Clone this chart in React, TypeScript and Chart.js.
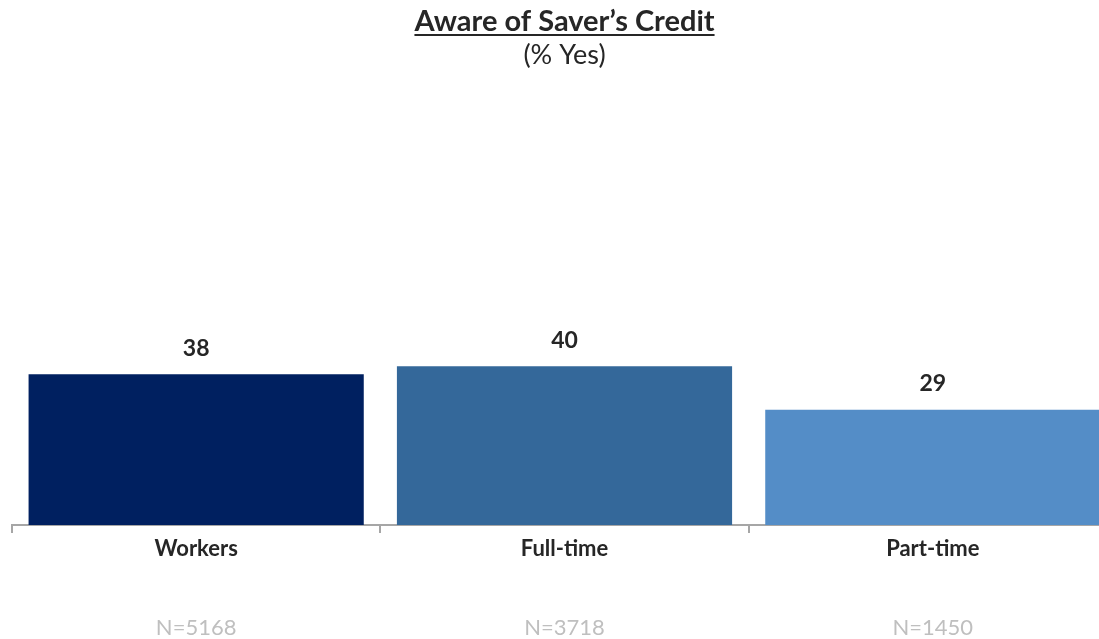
import React, { useEffect, useRef } from "react";
import { Chart, registerables } from "chart.js";

Chart.register(...registerables);

const categories = ["Workers", "Full-time", "Part-time"];
const values = [38, 40, 29];
const sampleSizes = ["N=5168", "N=3718", "N=1450"];
const barColors = ["#002060", "#34689A", "#548DC7"];
const titleText = "Aware of Saver’s Credit";
const subtitleText = "(% Yes)";
const yMin = 0;
const yMax = 100;

const FONT = "Lato, 'Open Sans', sans-serif";
const TEXT = "#262626";

const overlayPlugin = {
  id: "overlay",
  afterDatasetsDraw(chart: any) {
    const ctx = chart.ctx;
    const area = chart.chartArea;
    const cx = (area.left + area.right) / 2;
    ctx.save();

    // value labels
    const meta = chart.getDatasetMeta(0);
    ctx.fillStyle = TEXT;
    ctx.font = `bold 23px ${FONT}`;
    ctx.textAlign = "center";
    ctx.textBaseline = "middle";
    meta.data.forEach((bar: any, i: number) => {
      ctx.fillText(String(values[i]), bar.x, bar.y - 26);
    });

    // sample sizes
    const xs = chart.scales.x;
    ctx.fillStyle = "#BFBFBF";
    ctx.font = `22px ${FONT}`;
    ctx.textBaseline = "alphabetic";
    sampleSizes.forEach((s, i) => {
      ctx.fillText(s, xs.getPixelForValue(i), 635);
    });

    // title + underline
    ctx.fillStyle = TEXT;
    ctx.font = `bold 29px ${FONT}`;
    ctx.fillText(titleText, cx, 31);
    const w = ctx.measureText(titleText).width;
    ctx.strokeStyle = TEXT;
    ctx.lineWidth = 2;
    ctx.beginPath();
    ctx.moveTo(cx - w / 2, 35);
    ctx.lineTo(cx + w / 2, 35);
    ctx.stroke();

    // subtitle
    ctx.font = `27px ${FONT}`;
    ctx.fillText(subtitleText, cx, 64);
    ctx.restore();
  },
};

export default function App() {
  const ref = useRef<HTMLCanvasElement | null>(null);

  useEffect(() => {
    if (!ref.current) return;
    const chart = new Chart(ref.current, {
      type: "bar",
      data: {
        labels: categories,
        datasets: [
          {
            data: values,
            backgroundColor: barColors,
            borderWidth: 0,
            categoryPercentage: 1,
            barPercentage: 0.91,
          },
        ],
      },
      options: {
        animation: false,
        responsive: true,
        maintainAspectRatio: false,
        layout: { padding: { top: 128, left: 12, right: 13, bottom: 0 } },
        plugins: {
          legend: { display: false },
          tooltip: { enabled: false },
          title: { display: false },
        },
        scales: {
          x: {
            offset: true,
            afterFit: (scale: any) => {
              scale.height = 114;
            },
            grid: {
              offset: true,
              drawOnChartArea: false,
              drawTicks: true,
              tickLength: 8,
              color: "#A6A6A6",
              lineWidth: 2,
            },
            border: { display: true, color: "#A6A6A6", width: 2 },
            ticks: {
              color: TEXT,
              padding: 3,
              font: { family: FONT, size: 22, weight: "bold" },
              maxRotation: 0,
            },
          },
          y: {
            display: false,
            min: yMin,
            max: yMax,
          },
        },
      },
      plugins: [overlayPlugin],
    });
    return () => chart.destroy();
  }, []);

  return (
    <div
      style={{
        position: "fixed",
        left: 0,
        top: 0,
        width: 1099,
        height: 639,
        overflow: "hidden",
        background: "#ffffff",
      }}
    >
      <div style={{ position: "relative", width: 1130, height: 639 }}>
        <canvas ref={ref} />
      </div>
    </div>
  );
}
